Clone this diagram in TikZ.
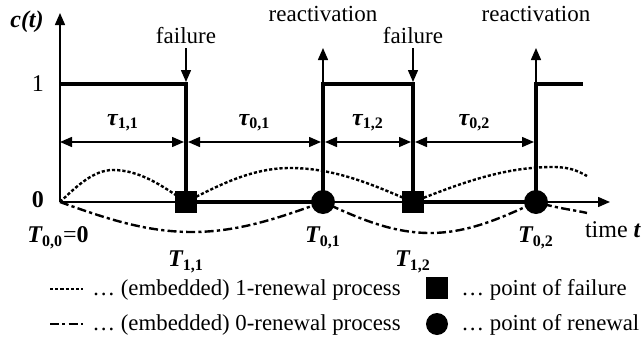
\documentclass[tikz,border=0pt]{standalone}
\usepackage{fontspec}
\setmainfont{Liberation Serif}
\usetikzlibrary{positioning, calc, arrows.meta}

\newcommand{\ssym}[2]{{\bfseries\itshape #1}\textsubscript{\bfseries #2}}

\begin{document}
\begin{tikzpicture}[x=0.5pt, y=-0.5pt, >={Triangle[length=6pt, width=5pt]},
	thinline/.style={line width=0.75pt},
	signal/.style={line width=2pt},
	renewone/.style={line width=1.2pt, dash pattern=on 1.6pt off 1pt},
	renewzero/.style={line width=1.2pt, dash pattern=on 4.5pt off 1.6pt on 1.6pt off 1.6pt},
	evlbl/.style={font=\fontsize{11.5}{13}\selectfont, inner sep=1pt},
	symlbl/.style={font=\fontsize{12}{14}\selectfont, inner sep=1pt},
	leg/.style={font=\fontsize{11.4}{13}\selectfont, inner sep=0pt, anchor=west},
	failmark/.style={fill, minimum size=11pt, inner sep=0},
	renewmark/.style={circle, fill, minimum size=12pt, inner sep=0}]
\useasboundingbox (0,0) rectangle (644,343);

% time points
\coordinate (O) at (60,202);
\coordinate (top) at (60,13);
\coordinate (tend) at (610,202);
\foreach \n/\x in {T00/60, T11/186, T01/323, T12/413, T02/536} {
	\coordinate (\n-ev) at (\x,48);
	\coordinate (\n-hi) at (\x,84);
	\coordinate (\n-mid) at (\x,142);
	\coordinate (\n) at (\x,202);
}
\coordinate (end-hi) at (583,84);

% embedded renewal processes
\draw[renewone] (T00) sin (113,170) cos (T11) sin (290,168) cos (T12) sin (553,167)
	.. controls (570,167) and (578,171) .. (587,176);
\draw[renewzero] (T00) sin (192,232) cos (T01) sin (430,233) cos (T02)
	.. controls (560,209) and (575,210) .. (587,213);

% axes
\draw[thinline, ->] (O) -- (top);
\draw[thinline, ->] (O) -- (tend);
\node[symlbl, font=\fontsize{12}{14}\selectfont\bfseries\itshape] (ct) at (27,22) {c(t)};
\node[symlbl] (one) at (38,84) {1};
\node[symlbl, font=\fontsize{12}{14}\selectfont\bfseries] (zero) at (38,200) {0};
\node[symlbl] (time) at (613,230) {time \textbf{\textit{t}}};

% state
\draw[signal] (T00-hi) -- (T11-hi) -- (T11) -- (T01) -- (T01-hi) -- (T12-hi) -- (T12) -- (T02) -- (T02-hi) -- (end-hi);

% durations
\foreach \a/\b/\i/\s in {T00/T11/{1,1}/0, T11/T01/{0,1}/1, T01/T12/{1,2}/1, T12/T02/{0,2}/1} {
	\draw[thinline, <->, shorten <=\s pt, shorten >=1pt] (\a-mid) -- node[symlbl, above=4pt] {\ssym{τ}{\i}} (\b-mid);
}

% events
\foreach \p in {T11, T12} {
	\node[evlbl, above=1pt of \p-ev] (fail-\p) {failure};
	\draw[thinline, ->, shorten >=1pt] (\p-ev) -- (\p-hi);
}
\foreach \p in {T01, T02} {
	\node[evlbl, above=12pt of \p-ev] (react-\p) {reactivation};
	\draw[thinline, ->, shorten <=1pt] (\p-hi) -- (\p-ev);
}

% points
\node[failmark] (mT11) at (T11) {};
\node[failmark] (mT12) at (T12) {};
\node[renewmark] (mT01) at (T01) {};
\node[renewmark] (mT02) at (T02) {};

\node[symlbl] (lT00) at (58,238) {\ssym{T}{0,0}=\textbf{0}};
\node[symlbl] (lT11) at (186,262) {\ssym{T}{1,1}};
\node[symlbl] (lT01) at (323,238) {\ssym{T}{0,1}};
\node[symlbl] (lT12) at (413,262) {\ssym{T}{1,2}};
\node[symlbl] (lT02) at (536,238) {\ssym{T}{0,2}};

% legend
\coordinate (ls1) at (50,289);
\coordinate (le1) at (83,289);
\coordinate (ls2) at (50,324);
\coordinate (le2) at (83,324);
\draw[renewone] (ls1) -- (le1);
\draw[renewzero] (ls2) -- (le2);
\node[leg] (leg1) at (92,290) {… (embedded) 1-renewal process};
\node[leg] (leg2) at (92,325) {… (embedded) 0-renewal process};
\node[failmark] (legfail) at (437,288) {};
\node[renewmark, minimum size=11pt] (legrenew) at (437,324) {};
\node[leg] (leg3) at (461,290) {… point of failure};
\node[leg] (leg4) at (461,325) {… point of renewal};
\end{tikzpicture}
\end{document}
